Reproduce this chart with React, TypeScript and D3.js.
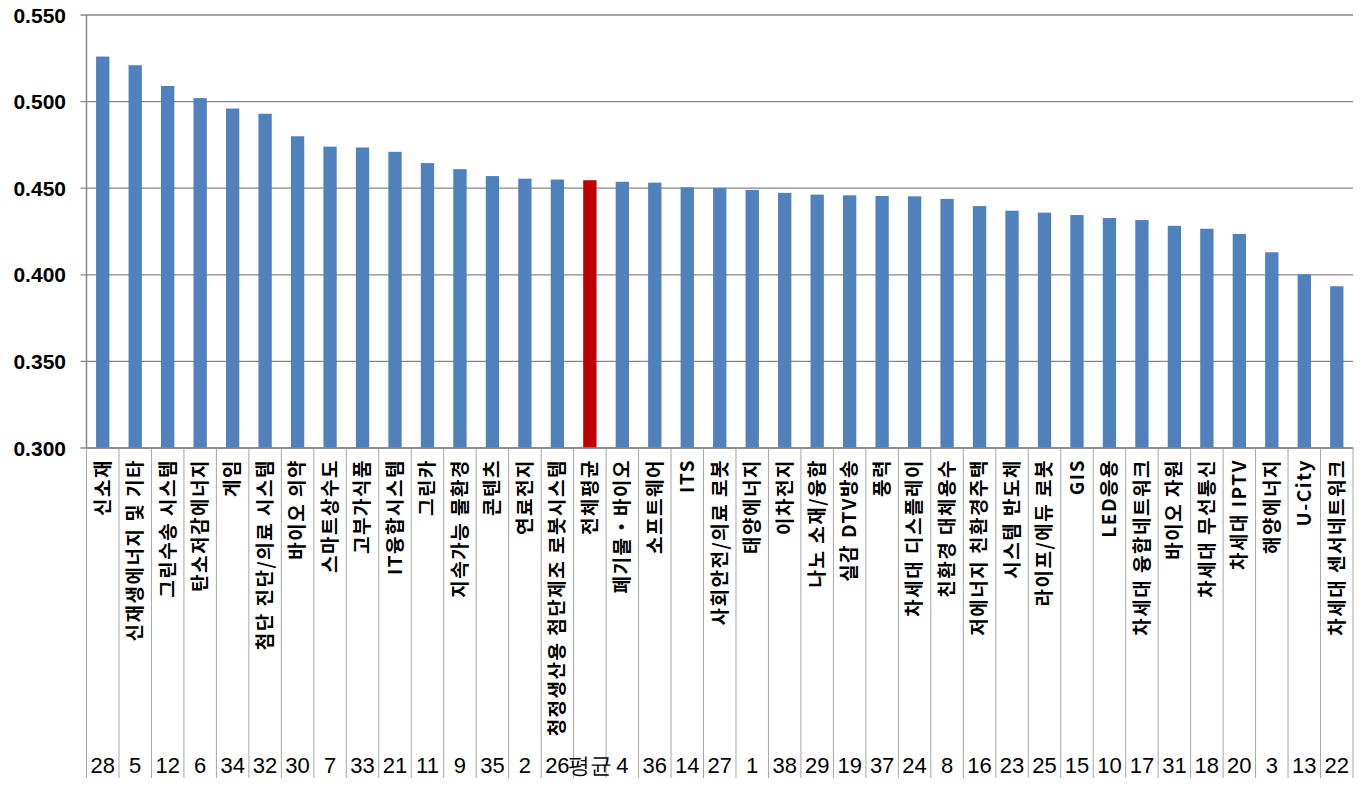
/**
 * Technology field index bar chart — D3 bar chart sorted descending,
 * with the overall average highlighted in red and rank numbers in a row below.
 */
import { useEffect, useRef } from 'react';
import * as d3 from 'd3';

const categories = [
  '신소재', '신재생에너지 및 기타', '그린수송 시스템', '탄소저감에너지', '게임',
  '첨단 진단/의료 시스템', '바이오 의약', '스마트상수도', '고부가식품', 'IT융합시스템',
  '그린카', '지속가능 물환경', '콘텐츠', '연료전지', '청정생산용 첨단제조 로봇시스템',
  '전체평균', '폐기물・바이오', '소프트웨어', 'ITS', '사회안전/의료 로봇',
  '태양에너지', '이차전지', '나노 소재/융합', '실감 DTV방송', '풍력',
  '차세대 디스플레이', '친환경 대체용수', '저에너지 친환경주택', '시스템 반도체', '라이프/에듀 로봇',
  'GIS', 'LED응용', '차세대 융합네트워크', '바이오 자원', '차세대 무선통신',
  '차세대 IPTV', '해양에너지', 'U-City', '차세대 센서네트워크',
];

const values = [
  0.526, 0.521, 0.509, 0.502, 0.496,
  0.493, 0.480, 0.474, 0.4735, 0.471,
  0.4645, 0.461, 0.457, 0.4555, 0.455,
  0.4546, 0.4537, 0.4532, 0.4505, 0.4502,
  0.449, 0.4473, 0.4463, 0.4459, 0.4455,
  0.4453, 0.4438, 0.4397, 0.437, 0.4359,
  0.4345, 0.4328, 0.4316, 0.4283, 0.4266,
  0.4236, 0.413, 0.4003, 0.3934,
];

const ranks = [
  '28', '5', '12', '6', '34', '32', '30', '7', '33', '21',
  '11', '9', '35', '2', '26', '평균', '4', '36', '14', '27',
  '1', '38', '29', '19', '37', '24', '8', '16', '23', '25',
  '15', '10', '17', '31', '18', '20', '3', '13', '22',
];

const highlight = '전체평균';
const yTicks = [0.3, 0.35, 0.4, 0.45, 0.5, 0.55];

export default function App() {
  const svgRef = useRef<SVGSVGElement>(null);

  useEffect(() => {
    if (!svgRef.current) return;
    const svg = d3.select(svgRef.current);
    svg.selectAll('*').remove();

    const width = 1371;
    const height = 799;
    const left = 86.5;
    const right = 1353;
    const top = 15;
    const bottom = 448;
    const tableBottom = 778;

    svg.attr('width', width).attr('height', height);

    const x = d3.scaleBand<string>().domain(categories).range([left, right]).paddingInner(0).paddingOuter(0);
    const y = d3.scaleLinear().domain([0.3, 0.55]).range([bottom, top]);
    const bw = x.bandwidth();
    const barW = bw * 0.41;

    // Grid lines
    svg.append('g')
      .selectAll('line')
      .data(yTicks)
      .enter().append('line')
      .attr('x1', left - 6)
      .attr('x2', right)
      .attr('y1', (d) => y(d))
      .attr('y2', (d) => y(d))
      .attr('stroke', '#878787')
      .attr('stroke-width', 1.3);

    // Y tick labels
    svg.append('g')
      .selectAll('text')
      .data(yTicks)
      .enter().append('text')
      .attr('x', 66)
      .attr('y', (d) => y(d))
      .attr('dy', '0.36em')
      .attr('text-anchor', 'end')
      .attr('font-family', 'Liberation Sans, Arial, sans-serif')
      .attr('font-weight', 'bold')
      .attr('font-size', 21)
      .attr('fill', '#000')
      .text((d) => d3.format('.3f')(d));

    // Bars
    svg.append('g')
      .selectAll('rect')
      .data(categories)
      .enter().append('rect')
      .attr('x', (d) => (x(d) ?? 0) + (bw - barW) / 2)
      .attr('y', (_, i) => y(values[i]))
      .attr('width', barW)
      .attr('height', (_, i) => bottom - y(values[i]))
      .attr('fill', (d) => (d === highlight ? '#C00000' : '#4F81BD'));

    // Category separators in the label table
    const seps = categories.map((d) => x(d) ?? 0).concat([right]);
    svg.append('g')
      .selectAll('line')
      .data(seps)
      .enter().append('line')
      .attr('x1', (d) => d)
      .attr('x2', (d) => d)
      .attr('y1', bottom)
      .attr('y2', tableBottom)
      .attr('stroke', '#a6a6a6')
      .attr('stroke-width', 1);

    // Axes lines
    svg.append('line')
      .attr('x1', left).attr('x2', left)
      .attr('y1', top).attr('y2', bottom)
      .attr('stroke', '#878787').attr('stroke-width', 1.5);
    svg.append('line')
      .attr('x1', left).attr('x2', right)
      .attr('y1', bottom).attr('y2', bottom)
      .attr('stroke', '#878787').attr('stroke-width', 1.5);

    // Rotated category labels
    svg.append('g')
      .selectAll('text')
      .data(categories)
      .enter().append('text')
      .attr('transform', (d) => `translate(${(x(d) ?? 0) + bw / 2},${459}) rotate(-90)`)
      .attr('dy', '0.36em')
      .attr('text-anchor', 'end')
      .attr('font-family', 'Noto Sans CJK KR, sans-serif')
      .attr('font-weight', 'bold')
      .attr('font-size', 19)
      .attr('letter-spacing', 1.5)
      .attr('fill', '#000')
      .text((d) => d);

    // Rank row
    svg.append('g')
      .selectAll('text')
      .data(categories)
      .enter().append('text')
      .attr('x', (d) => (x(d) ?? 0) + bw / 2)
      .attr('y', 765)
      .attr('dy', '0.36em')
      .attr('text-anchor', 'middle')
      .attr('font-family', 'Liberation Sans, Arial, sans-serif')
      .attr('font-size', 22)
      .attr('fill', '#000')
      .text((_, i) => ranks[i]);
  }, []);

  return (
    <svg
      ref={svgRef}
      style={{ position: 'absolute', left: 0, top: 0, display: 'block', background: '#fff' }}
    />
  );
}
